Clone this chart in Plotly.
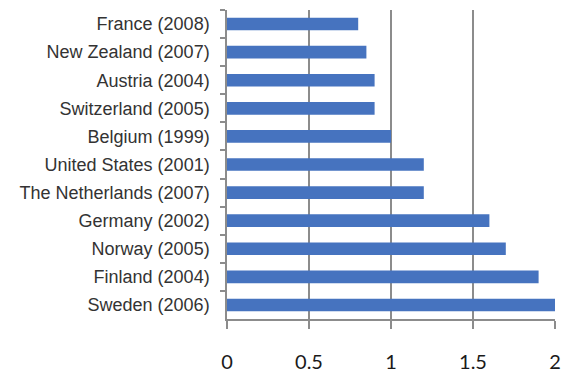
import plotly.graph_objects as go

countries = [
    "France (2008)", "New Zealand (2007)", "Austria (2004)", "Switzerland (2005)",
    "Belgium (1999)", "United States (2001)", "The Netherlands (2007)",
    "Germany (2002)", "Norway (2005)", "Finland (2004)", "Sweden (2006)",
]
values = [0.8, 0.85, 0.9, 0.9, 1.0, 1.2, 1.2, 1.6, 1.7, 1.9, 2.0]
x_ticks = [0, 0.5, 1, 1.5, 2]
x_tick_text = ["0", "0.5", "1", "1.5", "2"]

AXIS_GREY = "#8c8c8c"

fig = go.Figure(
    go.Bar(
        x=values,
        y=countries,
        orientation="h",
        width=0.45,
        marker=dict(color="#4673bf", line=dict(width=0)),
        hoverinfo="x+y",
    )
)

fig.update_layout(
    width=564,
    height=372,
    margin=dict(l=227, r=9, t=10, b=53),
    paper_bgcolor="white",
    plot_bgcolor="white",
    showlegend=False,
)

fig.update_xaxes(
    range=[0, 2],
    tickvals=x_ticks,
    ticktext=x_tick_text,
    automargin=False,
    showgrid=True,
    gridcolor=AXIS_GREY,
    gridwidth=1.5,
    zeroline=False,
    showline=True,
    linecolor=AXIS_GREY,
    linewidth=1.5,
    ticks="outside",
    ticklen=8,
    tickcolor=AXIS_GREY,
    tickwidth=1.5,
    ticklabelstandoff=16,
    tickfont=dict(family="Lato, Open Sans, sans-serif", size=20, color="#1a1a1a"),
)

fig.update_yaxes(
    categoryorder="array",
    categoryarray=countries,
    autorange="reversed",
    automargin=False,
    showgrid=False,
    zeroline=False,
    showline=True,
    linecolor=AXIS_GREY,
    linewidth=1.5,
    ticks="outside",
    tickson="boundaries",
    ticklen=5,
    tickcolor=AXIS_GREY,
    tickwidth=1.5,
    ticklabelstandoff=12,
    tickfont=dict(family="Liberation Sans, Arial, sans-serif", size=18, color="#333333"),
)

fig.write_html("out.html")
